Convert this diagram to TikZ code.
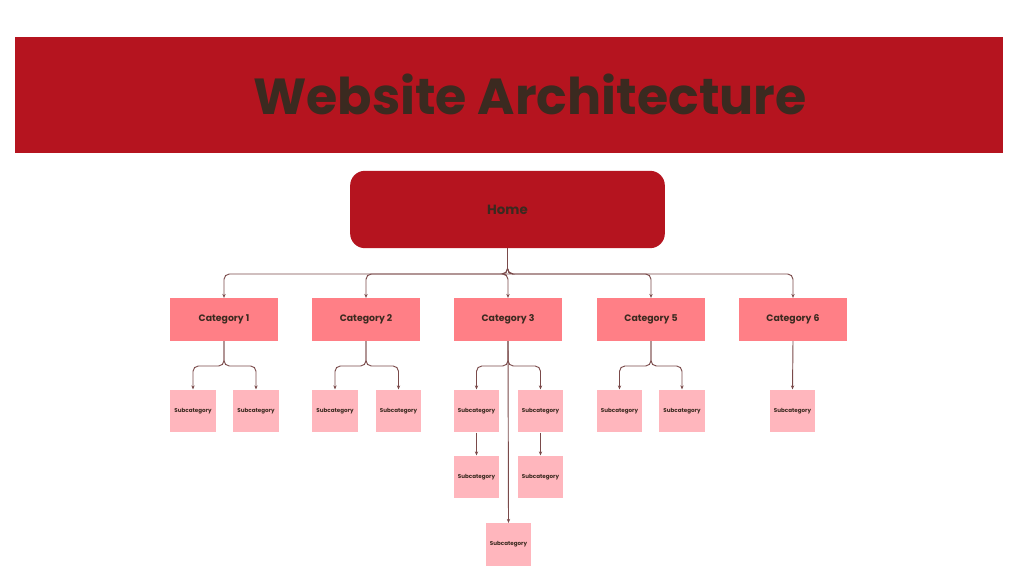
\documentclass[tikz,border=0pt]{standalone}
\usepackage{fontspec}
\setmainfont{Poppins}
\usetikzlibrary{arrows.meta}
\definecolor{banner}{HTML}{B5141F}
\definecolor{ink}{HTML}{3B2A20}
\definecolor{catc}{HTML}{FF7F86}
\definecolor{subc}{HTML}{FFB6BD}
\definecolor{linec}{HTML}{7A4A4A}
\tikzset{
  catbox/.style={fill=catc,minimum width=81pt,minimum height=32pt,inner sep=0pt,font=\bfseries\fontsize{7}{8}\selectfont,text=ink},
  subbox/.style={fill=subc,minimum width=34pt,minimum height=32pt,inner sep=0pt,font=\bfseries\fontsize{4.2}{5}\selectfont,text=ink},
  conn/.style={draw=linec,line width=0.7pt,rounded corners=4pt,-{Stealth[length=3pt,width=2.5pt]}},
}
\begin{document}
\begin{tikzpicture}[x=0.75pt,y=-0.75pt]
\useasboundingbox (0,0) rectangle (1024,584);
\fill[white] (0,0) rectangle (1024,584);
\fill[banner] (15,37) rectangle (1003,153);
\node[font=\bfseries\fontsize{38}{40}\selectfont,text=ink] (title) at (530,94) {Website Architecture};
\node[fill=banner,rounded corners=11pt,minimum width=236pt,minimum height=58pt,font=\bfseries\fontsize{10}{12}\selectfont,text=ink] (home) at (507.5,209.5) {Home};
\node[catbox] (c1) at (224,319.5) {Category 1};
\node[catbox] (c2) at (366,319.5) {Category 2};
\node[catbox] (c3) at (508,319.5) {Category 3};
\node[catbox] (c5) at (651,319.5) {Category 5};
\node[catbox] (c6) at (793,319.5) {Category 6};
\node[subbox] (s11) at (193,411) {Subcategory};
\node[subbox] (s12) at (256,411) {Subcategory};
\node[subbox] (s21) at (335,411) {Subcategory};
\node[subbox] (s22) at (398.5,411) {Subcategory};
\node[subbox] (s31) at (476.5,411) {Subcategory};
\node[subbox] (s32) at (540.5,411) {Subcategory};
\node[subbox] (s51) at (619.5,411) {Subcategory};
\node[subbox] (s52) at (682,411) {Subcategory};
\node[subbox] (s61) at (792.5,411) {Subcategory};
\node[subbox] (s33) at (476.5,477) {Subcategory};
\node[subbox] (s34) at (540.5,477) {Subcategory};
\node[subbox] (s35) at (508.5,544.5) {Subcategory};
\foreach \c in {c1,c2,c3,c5,c6}
  \draw[conn] (home.south) -- (home.south |- 0,274) -| (\c.north);
\foreach \c/\s in {c1/s11,c1/s12,c2/s21,c2/s22,c3/s31,c3/s32,c5/s51,c5/s52}
  \draw[conn] (\c.south) -- (\c.south |- 0,366) -| (\s.north);
\draw[conn] (c6.south) -- (s61.north);
\draw[conn] (s31.south) -- (s33.north);
\draw[conn] (s32.south) -- (s34.north);
\draw[conn] (c3.south) -- (s35.north);
\end{tikzpicture}
\end{document}
